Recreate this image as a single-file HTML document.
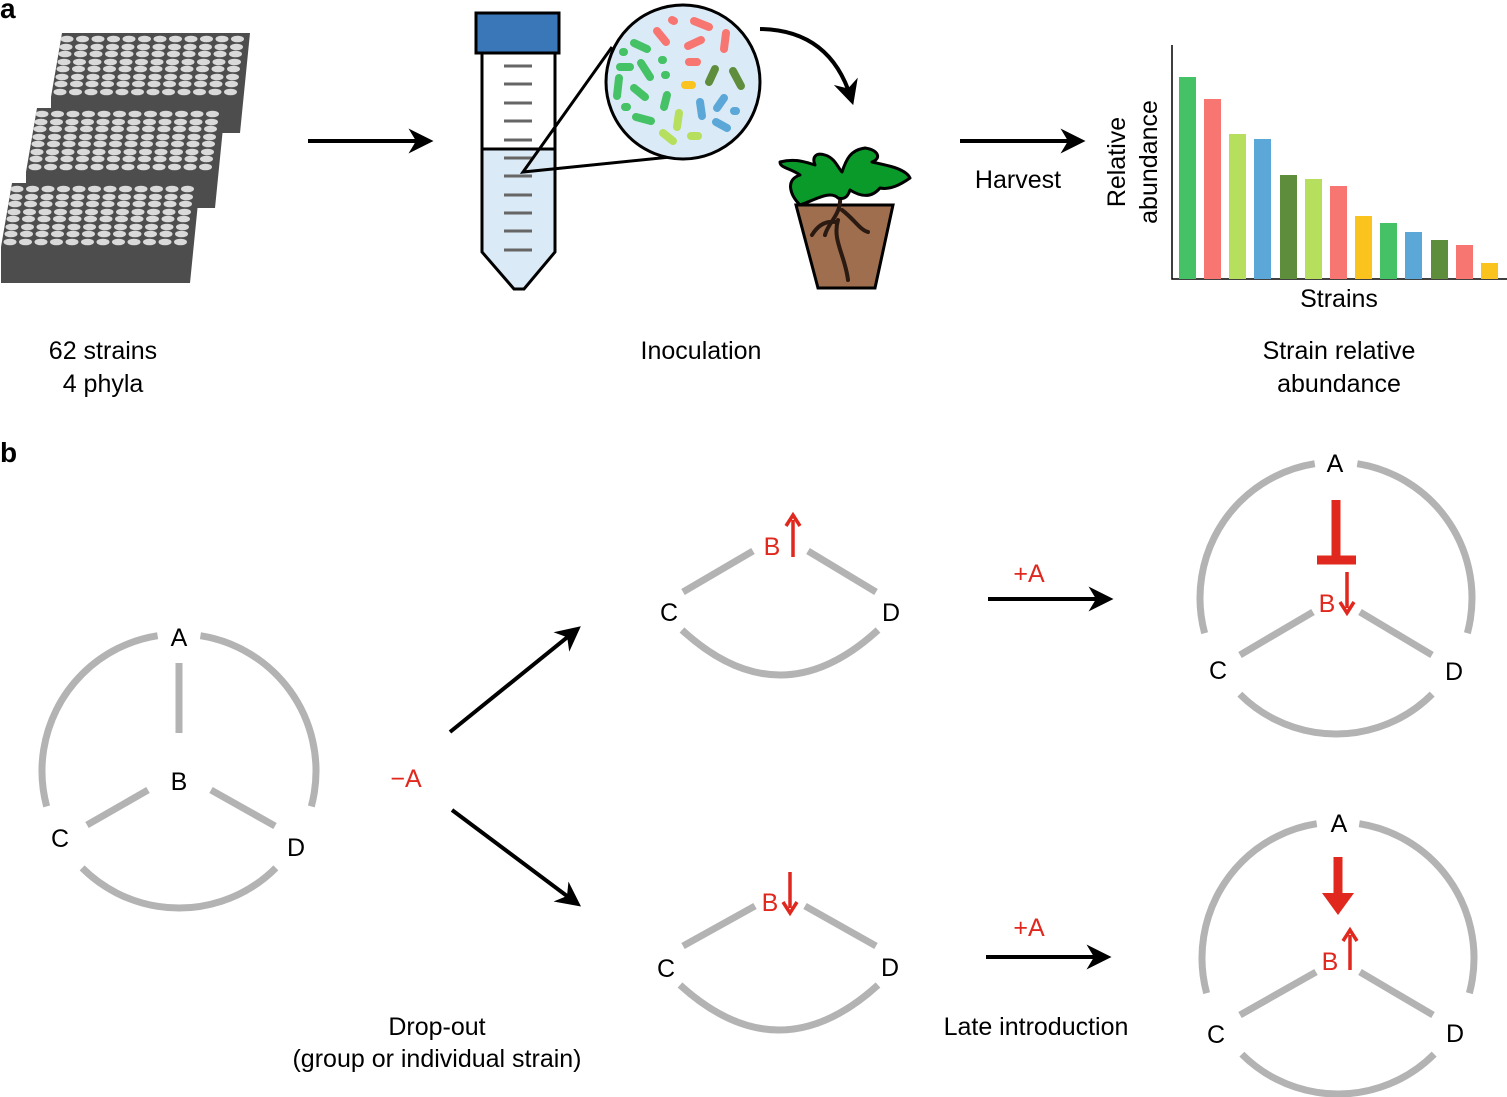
<!DOCTYPE html>
<html><head><meta charset="utf-8"><style>
html,body{margin:0;padding:0;background:#fff;}
svg{display:block;font-family:"Liberation Sans",Arial,sans-serif;}
</style></head><body>
<svg width="1507" height="1097" viewBox="0 0 1507 1097" xmlns="http://www.w3.org/2000/svg">
<defs>
<marker id="ah2" viewBox="0 0 20 20" refX="14" refY="10" markerWidth="25" markerHeight="25" markerUnits="userSpaceOnUse" orient="auto">
<path d="M0,0 L20,10 L0,20 L6,10 Z" fill="#000"/></marker>
<g id="row">
<ellipse cx="0" cy="0" rx="6.5" ry="3.3"/><ellipse cx="15.5" cy="0" rx="6.5" ry="3.3"/><ellipse cx="31" cy="0" rx="6.5" ry="3.3"/><ellipse cx="46.5" cy="0" rx="6.5" ry="3.3"/><ellipse cx="62" cy="0" rx="6.5" ry="3.3"/><ellipse cx="77.5" cy="0" rx="6.5" ry="3.3"/><ellipse cx="93" cy="0" rx="6.5" ry="3.3"/><ellipse cx="108.5" cy="0" rx="6.5" ry="3.3"/><ellipse cx="124" cy="0" rx="6.5" ry="3.3"/><ellipse cx="139.5" cy="0" rx="6.5" ry="3.3"/><ellipse cx="155" cy="0" rx="6.5" ry="3.3"/><ellipse cx="170.5" cy="0" rx="6.5" ry="3.3"/>
</g>
<g id="plate">
<polygon points="62,33 250,33 240,133 51,133 51,97" fill="#4d4d4d"/>
<g fill="#d9d9d9">
<use href="#row" x="67" y="39"/><use href="#row" x="66" y="47"/><use href="#row" x="65" y="54"/><use href="#row" x="64" y="62"/><use href="#row" x="63" y="69"/><use href="#row" x="62" y="77"/><use href="#row" x="61" y="84"/><use href="#row" x="60" y="92"/>
</g>
</g>
</defs>
<text x="0" y="18" font-size="28" font-weight="bold">a</text>
<text x="0" y="462" font-size="28" font-weight="bold">b</text>

<use href="#plate"/>
<use href="#plate" x="-25" y="75"/>
<use href="#plate" x="-50" y="150"/>
<text x="103" y="359" font-size="25" text-anchor="middle">62 strains</text>
<text x="103" y="392" font-size="25" text-anchor="middle">4 phyla</text>

<line x1="308" y1="141" x2="426" y2="141" stroke="#000" stroke-width="4" marker-end="url(#ah2)"/>

<!-- tube -->
<path d="M482,149 L555,149 L555,252 L524,289 L514,289 L482,252 Z" fill="#dbeaf7"/>
<path d="M482,53 L482,252 L514,289 L524,289 L555,252 L555,53" fill="none" stroke="#000" stroke-width="3"/>
<line x1="482" y1="149" x2="555" y2="149" stroke="#000" stroke-width="3"/>
<rect x="476" y="13" width="83" height="40" fill="#3a77b8" stroke="#000" stroke-width="3"/>
<g stroke="#666" stroke-width="3">
<line x1="504" y1="66" x2="532" y2="66"/><line x1="504" y1="84" x2="532" y2="84"/><line x1="504" y1="103" x2="532" y2="103"/><line x1="504" y1="121" x2="532" y2="121"/><line x1="504" y1="140" x2="532" y2="140"/><line x1="504" y1="158" x2="532" y2="158"/><line x1="504" y1="176" x2="532" y2="176"/><line x1="504" y1="195" x2="532" y2="195"/><line x1="504" y1="213" x2="532" y2="213"/><line x1="504" y1="231" x2="532" y2="231"/><line x1="504" y1="250" x2="532" y2="250"/>
</g>
<polyline points="612,47 523,172 690,155" fill="none" stroke="#000" stroke-width="3"/>
<circle cx="683" cy="82" r="77" fill="#dbeaf7" stroke="#000" stroke-width="3"/>
<g fill="none" stroke-width="8" stroke-linecap="round">
<g stroke="#f87671"><path d="M657,31 L666,42"/><path d="M694,21 L709,27"/><path d="M688,46 L701,40"/><path d="M726,33 L724,49"/><path d="M689,62 L697,62"/><path d="M672,20 L674,21"/></g>
<g stroke="#45c166"><path d="M634,43 L647,49"/><path d="M623,52 L624,52"/><path d="M620,67 L630,67"/><path d="M641,63 L650,77"/><path d="M619,78 L617,96"/><path d="M634,88 L645,97"/><path d="M662,60 L663,60"/><path d="M665,75 L666,75"/><path d="M667,95 L664,107"/><path d="M636,117 L651,121"/><path d="M625,107 L627,107"/></g>
<g stroke="#5e8d3c"><path d="M715,69 L709,82"/><path d="M733,71 L741,86"/></g>
<g stroke="#fbc31e"><path d="M685,85 L692,85"/></g>
<g stroke="#5aa7d8"><path d="M700,102 L702,116"/><path d="M724,98 L717,108"/><path d="M734,111 L736,111"/><path d="M716,122 L727,128"/></g>
<g stroke="#b5df5c"><path d="M679,113 L677,127"/><path d="M663,133 L673,141"/><path d="M691,136 L698,136"/></g>
</g>
<path d="M760,29 Q830,30 851,98" fill="none" stroke="#000" stroke-width="4" marker-end="url(#ah2)"/>
<text x="701" y="359" font-size="25" text-anchor="middle">Inoculation</text>

<!-- plant -->
<polygon points="796,205 893,205 875,288 818,288" fill="#9e6e4e" stroke="#000" stroke-width="3"/>
<path d="M840,195 C842,215 828,222 825,235 M842,210 C855,220 860,230 868,232 M838,220 C832,240 845,255 848,280 M836,222 C822,220 815,230 812,235" fill="none" stroke="#2a1a12" stroke-width="4" stroke-linecap="round"/>
<path d="M838,198 C830,190 815,200 800,205 C790,195 785,180 800,175 C790,168 780,168 780,162 C795,158 805,162 815,165 C812,158 815,152 825,155 C835,158 838,168 842,172 C846,160 850,150 865,148 C878,150 882,158 872,162 C885,165 905,168 910,178 C900,185 890,190 880,188 C870,200 858,195 850,190 C848,196 845,200 838,198 Z" fill="#0a9a2a" stroke="#000" stroke-width="3" stroke-linejoin="round"/>

<line x1="960" y1="141" x2="1078" y2="141" stroke="#000" stroke-width="4" marker-end="url(#ah2)"/>
<text x="1018" y="188" font-size="25" text-anchor="middle">Harvest</text>

<!-- bar chart -->
<polyline points="1172,45 1172,279 1507,279" fill="none" stroke="#000" stroke-width="1.5"/>
<g>
<rect x="1179" y="77" width="17" height="202" fill="#45c166"/>
<rect x="1204" y="99" width="17" height="180" fill="#f87671"/>
<rect x="1229" y="134" width="17" height="145" fill="#b5df5c"/>
<rect x="1254" y="139" width="17" height="140" fill="#5aa7d8"/>
<rect x="1280" y="175" width="17" height="104" fill="#5e8d3c"/>
<rect x="1305" y="179" width="17" height="100" fill="#b5df5c"/>
<rect x="1330" y="186" width="17" height="93" fill="#f87671"/>
<rect x="1355" y="216" width="17" height="63" fill="#fbc31e"/>
<rect x="1380" y="223" width="17" height="56" fill="#45c166"/>
<rect x="1405" y="232" width="17" height="47" fill="#5aa7d8"/>
<rect x="1431" y="240" width="17" height="39" fill="#5e8d3c"/>
<rect x="1456" y="245" width="17" height="34" fill="#f87671"/>
<rect x="1481" y="263" width="17" height="16" fill="#fbc31e"/>
</g>
<text transform="translate(1125,162) rotate(-90)" font-size="25" text-anchor="middle">Relative</text>
<text transform="translate(1157,162) rotate(-90)" font-size="25" text-anchor="middle">abundance</text>
<text x="1339" y="307" font-size="25" text-anchor="middle">Strains</text>
<text x="1339" y="359" font-size="25" text-anchor="middle">Strain relative</text>
<text x="1339" y="392" font-size="25" text-anchor="middle">abundance</text>

<!-- panel b -->
<g fill="none" stroke="#b3b3b3" stroke-width="7">
<circle cx="179" cy="771" r="137" pathLength="360" stroke-dasharray="96 30 90 30 96 18" transform="rotate(-81 179 771)"/>
<line x1="179" y1="663" x2="179" y2="733"/>
<line x1="148" y1="790" x2="87" y2="825"/>
<line x1="211" y1="790" x2="275" y2="826"/>

<line x1="683" y1="592" x2="753" y2="551"/><line x1="808" y1="551" x2="876" y2="592"/>
<path d="M682,630 Q780,720 878,630"/>
<line x1="683" y1="946" x2="755" y2="906"/><line x1="805" y1="906" x2="876" y2="946"/>
<path d="M680,985 Q779,1075 878,985"/>

<circle cx="1336" cy="598" r="136" pathLength="360" stroke-dasharray="96 30 90 30 96 18" transform="rotate(-81 1336 598)"/>
<line x1="1240" y1="655" x2="1313" y2="612"/><line x1="1360" y1="612" x2="1432" y2="655"/>
<circle cx="1338" cy="958" r="136" pathLength="360" stroke-dasharray="96 30 90 30 96 18" transform="rotate(-81 1338 958)"/>
<line x1="1240" y1="1015" x2="1316" y2="972"/><line x1="1360" y1="972" x2="1433" y2="1015"/>
</g>
<g font-size="25" text-anchor="middle">
<text x="179" y="646">A</text><text x="179" y="790">B</text><text x="60" y="847">C</text><text x="296" y="856">D</text>
<text x="669" y="621">C</text><text x="891" y="621">D</text>
<text x="666" y="977">C</text><text x="890" y="976">D</text>
<text x="1335" y="472">A</text><text x="1218" y="679">C</text><text x="1454" y="680">D</text>
<text x="1339" y="832">A</text><text x="1216" y="1043">C</text><text x="1455" y="1042">D</text>
</g>
<g font-size="25" text-anchor="middle" fill="#e0281e">
<text x="772" y="555">B</text><text x="770" y="911">B</text>
<text x="1327" y="612">B</text><text x="1330" y="970">B</text>
<text x="406" y="787">−A</text><text x="1029" y="582">+A</text><text x="1029" y="936">+A</text>
</g>
<g stroke="#e0281e" fill="#e0281e">
<line x1="793" y1="557" x2="793" y2="520" stroke-width="3.5"/><path d="M786,526 L793,515 L800,526" fill="none" stroke-width="3.5"/>
<line x1="790" y1="872" x2="790" y2="908" stroke-width="3.5"/><path d="M783,902 L790,913 L797,902" fill="none" stroke-width="3.5"/>
<line x1="1347" y1="572" x2="1347" y2="608" stroke-width="3.5"/><path d="M1340,602 L1347,613 L1354,602" fill="none" stroke-width="3.5"/>
<line x1="1350" y1="970" x2="1350" y2="935" stroke-width="3.5"/><path d="M1343,941 L1350,930 L1357,941" fill="none" stroke-width="3.5"/>
<line x1="1336" y1="500" x2="1336" y2="558" stroke-width="9"/><line x1="1317" y1="560" x2="1356" y2="560" stroke-width="9"/>
<line x1="1338" y1="857" x2="1338" y2="900" stroke-width="9"/><path d="M1322,893 L1354,893 L1338,915 Z" stroke="none"/>
</g>

<line x1="450" y1="732" x2="575" y2="631" stroke="#000" stroke-width="4" marker-end="url(#ah2)"/>
<line x1="452" y1="810" x2="575" y2="902" stroke="#000" stroke-width="4" marker-end="url(#ah2)"/>
<line x1="988" y1="599" x2="1106" y2="599" stroke="#000" stroke-width="4" marker-end="url(#ah2)"/>
<line x1="986" y1="957" x2="1104" y2="957" stroke="#000" stroke-width="4" marker-end="url(#ah2)"/>
<g font-size="25" text-anchor="middle">
<text x="437" y="1035">Drop-out</text>
<text x="437" y="1067">(group or individual strain)</text>
<text x="1036" y="1035">Late introduction</text>
</g>
</svg>
</body></html>
